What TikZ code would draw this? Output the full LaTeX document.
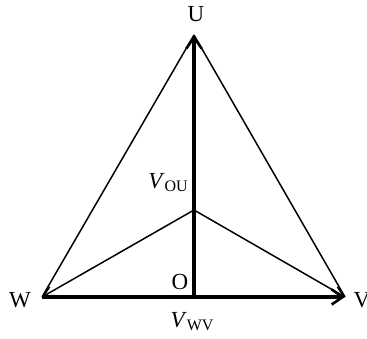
\documentclass[tikz,border=0pt]{standalone}
\usepackage{fontspec}
\setmainfont{Liberation Serif}
\usetikzlibrary{arrows.meta}
\begin{document}
\begin{tikzpicture}[x=1pt,y=-1pt,
  lbl/.style={font=\fontsize{23}{26}\selectfont, inner sep=0pt},
  thin/.style={line width=1.5pt},
  thickarr/.style={line width=3.6pt,-{Straight Barb[length=11pt,width=15pt,line width=2.6pt]}},
  thinarr/.style={line width=1.5pt,-{Straight Barb[length=10pt,width=10pt,line width=1.5pt]}}]
\useasboundingbox (0,0) rectangle (367,338);
\coordinate (U) at (194,35);
\coordinate (W) at (42,297);
\coordinate (V) at (345,297);
\coordinate (O) at (194,297);
\coordinate (C) at (194,210);
\draw[thin] (U) -- (W);
\draw[thin] (U) -- (V);
\draw[thinarr] (C) -- (W);
\draw[thinarr] (C) -- (V);
\draw[thickarr] (W) -- (V);
\draw[thickarr] (O) -- (U);
\node[lbl] (lU) at (196,14) {U};
\node[lbl] (lW) at (20,300) {W};
\node[lbl] (lV) at (362,300) {V};
\node[lbl] (lO) at (180,282) {O};
\node[lbl] (lVOU) at (168,183) {\textit{V}\kern0pt\fontsize{16}{18}\selectfont\raisebox{-3pt}{OU}};
\node[lbl] (lVWV) at (192,322) {\textit{V}\kern0pt\fontsize{16}{18}\selectfont\raisebox{-3pt}{WV}};
\end{tikzpicture}
\end{document}
